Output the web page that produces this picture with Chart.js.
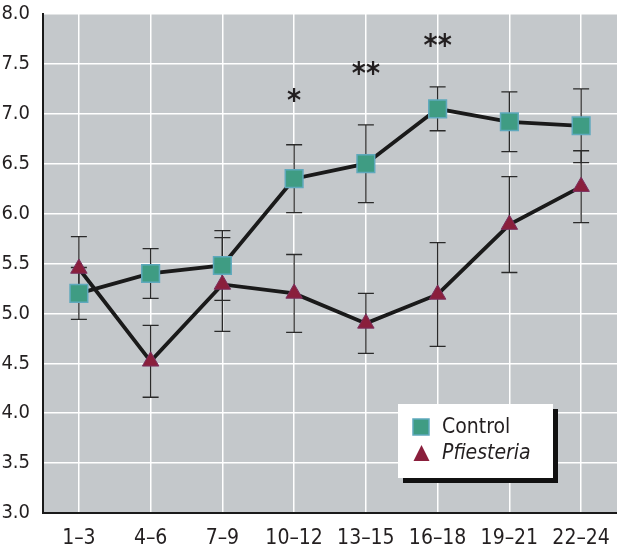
<!DOCTYPE html>
<html>
<head>
<meta charset="utf-8">
<script src="https://cdn.jsdelivr.net/npm/chart.js@4/dist/chart.umd.min.js"></script>
<style>
  html, body { margin: 0; padding: 0; background: #fff; }
  #wrap { width: 617px; height: 550px; }
</style>
</head>
<body>
<div id="wrap"><canvas id="c" width="617" height="550"></canvas></div>
<script>
// ---- data ----
const categories = ["1–3", "4–6", "7–9", "10–12", "13–15", "16–18", "19–21", "22–24"];
const yTicks = [3.0, 3.5, 4.0, 4.5, 5.0, 5.5, 6.0, 6.5, 7.0, 7.5, 8.0];

const controlMean = [5.20, 5.40, 5.48, 6.35, 6.50, 7.05, 6.92, 6.88];
const controlErr  = [0.26, 0.25, 0.35, 0.34, 0.39, 0.22, 0.30, 0.37];

const pfiesteriaMean = [5.45, 4.52, 5.29, 5.20, 4.90, 5.19, 5.89, 6.27];
const pfiesteriaErr  = [0.32, 0.36, 0.47, 0.39, 0.30, 0.52, 0.48, 0.36];

// significance marks and the value they sit at
const stars  = ["", "", "", "*", "**", "**", "", ""];
const starAt = [null, null, null, 7.16, 7.43, 7.71, null, null];

const FONT = "'DejaVu Sans Condensed', 'Liberation Sans Narrow', sans-serif";
const INK = "#231f20";

// grey plot background
const plotBg = {
  id: "plotBg",
  beforeDraw(chart) {
    const { ctx, chartArea: a } = chart;
    ctx.save();
    ctx.fillStyle = "#c4c8cb";
    ctx.fillRect(a.left, a.top, a.right - a.left, a.bottom - a.top);
    ctx.restore();
  }
};

// error bars, drawn under the lines and markers
const errorBars = {
  id: "errorBars",
  beforeDatasetsDraw(chart) {
    const { ctx } = chart;
    const y = chart.scales.y;
    ctx.save();
    ctx.strokeStyle = "#2a2a2a";
    ctx.lineWidth = 1.3;
    chart.data.datasets.forEach((ds, i) => {
      const meta = chart.getDatasetMeta(i);
      meta.data.forEach((pt, j) => {
        const lo = y.getPixelForValue(ds.data[j] - ds.errors[j]);
        const hi = y.getPixelForValue(ds.data[j] + ds.errors[j]);
        ctx.beginPath();
        ctx.moveTo(pt.x, lo); ctx.lineTo(pt.x, hi);
        ctx.moveTo(pt.x - 8, lo); ctx.lineTo(pt.x + 8, lo);
        ctx.moveTo(pt.x - 8, hi); ctx.lineTo(pt.x + 8, hi);
        ctx.stroke();
      });
    });
    ctx.restore();
  }
};

// asterisks
const starMarks = {
  id: "starMarks",
  afterDatasetsDraw(chart) {
    const { ctx } = chart;
    const x = chart.scales.x, y = chart.scales.y;
    ctx.save();
    ctx.fillStyle = INK;
    ctx.font = "bold 30px " + FONT;
    ctx.textAlign = "center";
    ctx.textBaseline = "middle";
    stars.forEach((s, j) => {
      if (!s) return;
      ctx.fillText(s, x.getPixelForValue(j), y.getPixelForValue(starAt[j]) + 4);
    });
    ctx.restore();
  }
};

// boxed legend with drop shadow, inside the plot
const boxLegend = {
  id: "boxLegend",
  afterDraw(chart) {
    const { ctx } = chart;
    const bx = 398, by = 404, bw = 155, bh = 74;
    ctx.save();
    ctx.fillStyle = "#111";
    ctx.fillRect(bx + 5, by + 5, bw, bh);
    ctx.fillStyle = "#fff";
    ctx.fillRect(bx, by, bw, bh);

    const ds = chart.data.datasets;
    // Control square
    ctx.fillStyle = ds[0].pointBackgroundColor;
    ctx.strokeStyle = ds[0].pointBorderColor;
    ctx.lineWidth = 1.5;
    ctx.fillRect(413, 419, 16, 16);
    ctx.strokeRect(413, 419, 16, 16);
    // Pfiesteria triangle
    ctx.fillStyle = ds[1].pointBackgroundColor;
    ctx.beginPath();
    ctx.moveTo(421.5, 445); ctx.lineTo(429.5, 461); ctx.lineTo(413.5, 461); ctx.closePath();
    ctx.fill();

    ctx.fillStyle = INK;
    ctx.textBaseline = "middle";
    ctx.textAlign = "left";
    ctx.font = "21px " + FONT;
    ctx.fillText(ds[0].label, 442, 428);
    ctx.font = "italic 21px " + FONT;
    ctx.fillText(ds[1].label, 442, 454);
    ctx.restore();
  }
};

new Chart(document.getElementById("c"), {
  type: "line",
  data: {
    labels: categories,
    datasets: [
      {
        label: "Control",
        data: controlMean,
        errors: controlErr,
        borderColor: "#1a1a1a",
        borderWidth: 3.8,
        pointStyle: "rect",
        pointRadius: 12.5,
        pointBackgroundColor: "#3f9c83",
        pointBorderColor: "#5fa9bd",
        pointBorderWidth: 1.5,
        order: 1
      },
      {
        label: "Pfiesteria",
        data: pfiesteriaMean,
        errors: pfiesteriaErr,
        borderColor: "#1a1a1a",
        borderWidth: 3.8,
        pointStyle: "triangle",
        pointRadius: 9.5,
        pointBackgroundColor: "#8a1f3c",
        pointBorderColor: "#7a2f5e",
        pointBorderWidth: 1,
        order: 2
      }
    ]
  },
  options: {
    responsive: false,
    animation: false,
    layout: { autoPadding: false, padding: { top: 14, right: 0, left: 0, bottom: 0 } },
    plugins: {
      legend: { display: false },
      tooltip: { enabled: false }
    },
    scales: {
      x: {
        offset: true,
        grid: { color: "#ffffff", lineWidth: 1.5, drawTicks: false },
        border: { color: "#1a1a1a", width: 2 },
        ticks: { color: INK, font: { family: FONT, size: 21 }, padding: 13, maxRotation: 0 },
        afterFit(scale) {
          scale.height = 37;
          scale.paddingLeft = 0; scale.paddingRight = 0;
        }
      },
      y: {
        min: 3,
        max: 8,
        afterBuildTicks(scale) { scale.ticks = yTicks.map(v => ({ value: v })); },
        grid: { color: "#ffffff", lineWidth: 1.5, drawTicks: false },
        border: { color: "#1a1a1a", width: 2 },
        ticks: {
          color: INK,
          font: { family: FONT, size: 20 },
          padding: 13,
          callback: v => Number(v).toFixed(1)
        },
        afterFit(scale) {
          scale.width = 43;
          scale.paddingTop = 0; scale.paddingBottom = 0;
        }
      }
    }
  },
  plugins: [plotBg, errorBars, starMarks, boxLegend]
});
</script>
</body>
</html>
